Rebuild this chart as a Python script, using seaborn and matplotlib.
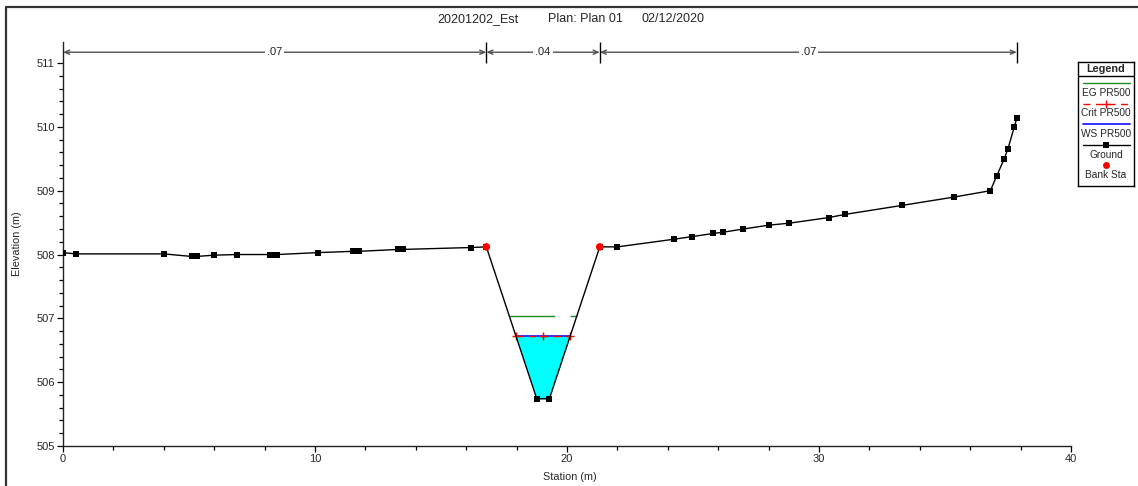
import numpy as np
import pandas as pd
import seaborn as sns
import matplotlib.pyplot as plt
from matplotlib.lines import Line2D
from matplotlib.ticker import MultipleLocator, FixedLocator

# ---- cross-section data -------------------------------------------------
station = [0.0, 0.5, 4.0, 5.1, 5.3, 6.0, 6.9, 8.2, 8.35, 8.5, 10.1, 11.5,
           11.75, 13.3, 13.5, 16.2, 16.8, 18.8, 19.3, 21.3, 22.0, 24.25,
           24.95, 25.8, 26.2, 27.0, 28.0, 28.8, 30.4, 31.05, 33.3, 35.35,
           36.8, 37.05, 37.35, 37.5, 37.75, 37.85]
elevation = [508.03, 508.01, 508.01, 507.97, 507.97, 507.99, 508.0, 508.0,
             508.0, 508.0, 508.03, 508.05, 508.05, 508.08, 508.08, 508.11,
             508.12, 505.74, 505.74, 508.12, 508.12, 508.24, 508.28, 508.33,
             508.35, 508.40, 508.46, 508.49, 508.58, 508.63, 508.77, 508.90,
             509.0, 509.23, 509.5, 509.66, 510.0, 510.14]
bank_sta = [16.8, 21.3]
manning_n = [0.07, 0.04, 0.07]

ws_elev = 506.72     # WS PR500
crit_elev = 506.72   # Crit PR500
eg_elev = 507.04     # EG PR500

title_parts = ["20201202_Est", "Plan: Plan 01", "02/12/2020"]
legend_labels = ["EG PR500", "Crit PR500", "WS PR500", "Ground", "Bank Sta"]

ground = pd.DataFrame({"station": station, "elevation": elevation})

# ---- style ------------------------------------------------------------------
sns.set_style("ticks")
plt.rcParams["font.family"] = ["Liberation Sans", "DejaVu Sans"]

W, H, DPI = 1138, 486, 100
fig = plt.figure(figsize=(W / DPI, H / DPI), dpi=DPI)
ax = fig.add_axes([63 / W, 40 / H, 1008 / W, 404 / H])

C_EG, C_CRIT, C_WS, C_WATER = "#1f8a1f", "#ff0000", "#2020ff", "#00ffff"


def crossings(level):
    """Stations where the ground profile crosses a water level."""
    pts = []
    for i in range(len(station) - 1):
        e0, e1 = elevation[i] - level, elevation[i + 1] - level
        if e0 * e1 < 0:
            s0, s1 = station[i], station[i + 1]
            pts.append(s0 + (s1 - s0) * e0 / (e0 - e1))
    return pts[0], pts[-1]


# water body
wl, wr = crossings(ws_elev)
inside = ground[(ground.station > wl) & (ground.station < wr)]
fill_x = [wl] + inside.station.tolist() + [wr]
fill_y = [ws_elev] + inside.elevation.tolist() + [ws_elev]
ax.fill_between(fill_x, fill_y, ws_elev, color=C_WATER, lw=0, zorder=1)

# energy grade line
el, er = crossings(eg_elev)
ax.plot([el, er], [eg_elev, eg_elev], color=C_EG, lw=1,
        dashes=(33, 11), zorder=2)

# water surface and critical depth
ax.plot([wl, wr], [ws_elev, ws_elev], color=C_WS, lw=1.3, zorder=3)
cl, cr = crossings(crit_elev)
ax.plot([cl, (cl + cr) / 2, cr], [crit_elev] * 3, color=C_CRIT, lw=1,
        dashes=(5, 4), marker="+", ms=6, mew=1, zorder=4)

# ground profile
sns.lineplot(data=ground, x="station", y="elevation", ax=ax, color="black",
             lw=1, marker="s", markersize=4, markeredgewidth=0,
             estimator=None, sort=False, legend=False, zorder=5)

# bank stations
bank_elev = np.interp(bank_sta, station, elevation)
sns.scatterplot(x=bank_sta, y=bank_elev, ax=ax, color="red", s=30,
                edgecolor="none", zorder=6, legend=False)

# ---- Manning's n bar ------------------------------------------------------
ax.set_xlim(0, 40)
ax.set_ylim(505, 511.33)
n_y = 511.17
bounds = [station[0]] + bank_sta + [station[-1]]
for i, n in enumerate(manning_n):
    ax.annotate("", xy=(bounds[i], n_y), xytext=(bounds[i + 1], n_y),
                arrowprops=dict(arrowstyle="<->,head_length=0.35,head_width=0.15",
                                color="#505050", lw=1, shrinkA=0, shrinkB=0),
                annotation_clip=False)
    ax.text((bounds[i] + bounds[i + 1]) / 2, n_y, f"{n:.2f}".lstrip("0"),
            ha="center", va="center", fontsize=8, color="#222222",
            bbox=dict(facecolor="white", edgecolor="none", pad=1.5), zorder=7)
ax.vlines(bounds[1:], 511.0, 511.33, color="black", lw=1, clip_on=False)

# ---- axes -------------------------------------------------------------------
ax.xaxis.set_major_locator(MultipleLocator(10))
ax.xaxis.set_minor_locator(MultipleLocator(2))
ax.yaxis.set_major_locator(FixedLocator(np.arange(505, 511.5, 1)))
ax.yaxis.set_minor_locator(FixedLocator(np.arange(505, 511.01, 0.2)))
ax.tick_params(which="both", direction="out", width=0.9, color="black",
               labelsize=8, pad=2)
ax.tick_params(which="major", length=4)
ax.tick_params(which="minor", length=3)
for side in ("left", "bottom"):
    ax.spines[side].set_color("#222222")
    ax.spines[side].set_linewidth(1)
sns.despine(ax=ax)
ax.set_xlabel("Station (m)", fontsize=7.8)
ax.set_ylabel("Elevation (m)", fontsize=7.8)
ax.xaxis.set_label_coords(0.503, -0.065)
ax.yaxis.set_label_coords(-0.041, 0.5)

# ---- title ------------------------------------------------------------------
for part, xpx in zip(title_parts, [437, 548, 641]):
    fig.text(xpx / W, 1 - 19 / H, part, ha="left", va="center", fontsize=9)

# ---- legend box ---------------------------------------------------------------
lg = fig.add_axes([1078 / W, (H - 186) / H, 56 / W, 124 / H])
lg.set_xlim(1078, 1134)
lg.set_ylim(186, 62)
lg.set_xticks([])
lg.set_yticks([])
for sp in lg.spines.values():
    sp.set_visible(True)
    sp.set_color("black")
    sp.set_linewidth(1)
lg.text(1106, 69.5, "Legend", ha="center", va="center", fontsize=7.8,
        fontweight="bold")
lg.plot([1078, 1134], [76.5, 76.5], color="black", lw=1)
x0, x1, xm = 1083, 1130, 1106
lg.plot([x0, x1], [83, 83], color=C_EG, lw=1)
lg.plot([x0, xm, x1], [104, 104, 104], color=C_CRIT, lw=1, dashes=(5, 4),
        marker="+", ms=6, markevery=[1])
lg.plot([x0, x1], [124, 124], color=C_WS, lw=1.3)
lg.plot([x0, xm, x1], [145, 145, 145], color="black", lw=1, marker="s",
        ms=4, mew=0, markevery=[1])
lg.plot([xm], [165.5], "o", color="red", ms=5, mew=0)
for label, ypx in zip(legend_labels, [93.5, 113.5, 134, 155, 174.5]):
    lg.text(xm, ypx, label, ha="center", va="center", fontsize=7.3)

# ---- outer frame --------------------------------------------------------------
fx, fy = 5.5 / W, 1 - 7.5 / H
fig.add_artist(Line2D([fx, fx, 1.02], [-0.02, fy, fy],
                      transform=fig.transFigure, color="#333333", lw=1.6))

fig.savefig("out.png", dpi=DPI, facecolor="white")
